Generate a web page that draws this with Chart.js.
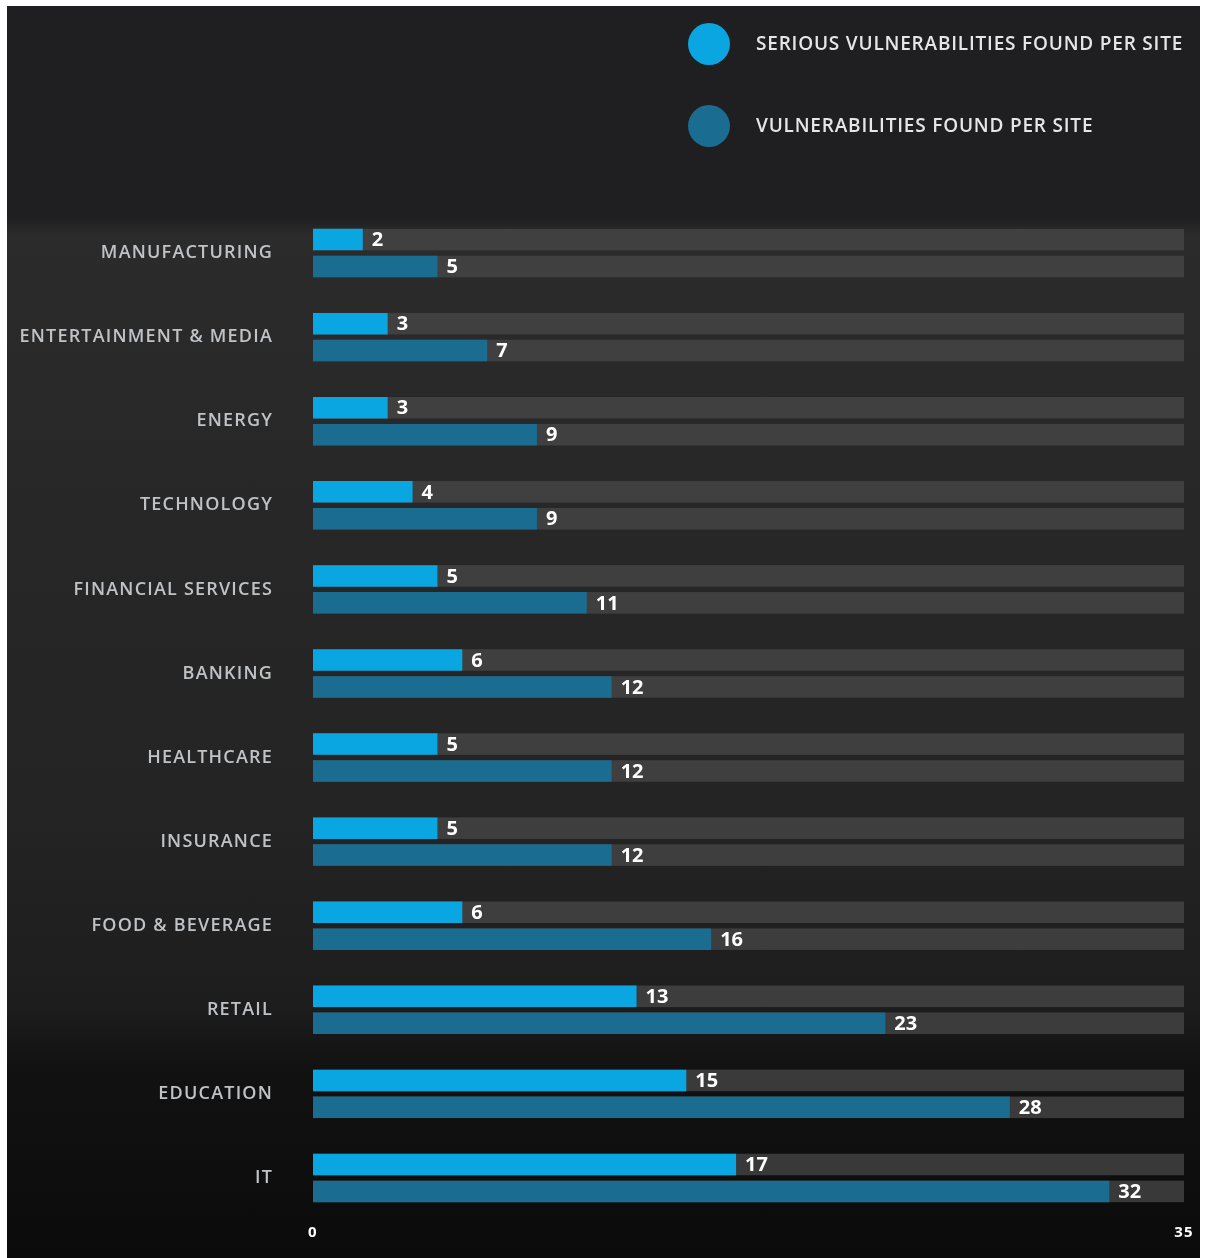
<!DOCTYPE html>
<html>
<head>
<meta charset="utf-8">
<title>Vulnerabilities per site by industry</title>
<script src="https://cdn.jsdelivr.net/npm/chart.js@4.4.1/dist/chart.umd.min.js"></script>
<style>
  html, body { margin: 0; padding: 0; background: #fff; }
  #wrap {
    position: absolute; left: 7px; top: 6px; width: 1193px; height: 1252px;
    background:
      linear-gradient(to bottom,
        #1f1f21 0px, #1f1f21 212px,
        #2b2b2b 228px, #272727 520px, #242424 800px,
        #1d1d1d 1000px, #121212 1060px, #0b0b0b 1252px);
  }
  canvas { display: block; }
</style>
</head>
<body>
<div id="wrap"><canvas id="chart" width="1193" height="1252"></canvas></div>
<script>
// data
const industries = [
  'MANUFACTURING', 'ENTERTAINMENT & MEDIA', 'ENERGY', 'TECHNOLOGY',
  'FINANCIAL SERVICES', 'BANKING', 'HEALTHCARE', 'INSURANCE',
  'FOOD & BEVERAGE', 'RETAIL', 'EDUCATION', 'IT'
];
const seriousPerSite = [2, 3, 3, 4, 5, 6, 5, 5, 6, 13, 15, 17];
const vulnsPerSite   = [5, 7, 9, 9, 11, 12, 12, 12, 16, 23, 28, 32];
const axisTicks = [0, 35];

const SERIOUS_COLOR = '#0aa6e2';
const VULN_COLOR = '#1b6c91';

// grey track behind every bar, running to the end of the axis
const trackPlugin = {
  id: 'tracks',
  beforeDatasetsDraw(chart) {
    const ctx = chart.ctx;
    const x = chart.scales.x;
    const end = x.getPixelForValue(axisTicks[axisTicks.length - 1]);
    ctx.save();
    ctx.fillStyle = 'rgba(72,72,72,0.75)';
    chart.data.datasets.forEach((ds, i) => {
      chart.getDatasetMeta(i).data.forEach(bar => {
        const h = bar.height;
        ctx.fillRect(bar.base, bar.y - h / 2, end - bar.base, h);
      });
    });
    ctx.restore();
  }
};

// white numbers after each bar
const valueLabels = {
  id: 'valueLabels',
  afterDatasetsDraw(chart) {
    const ctx = chart.ctx;
    ctx.save();
    ctx.font = "bold 20px 'Open Sans', sans-serif";
    ctx.letterSpacing = '0px';
    ctx.fillStyle = '#ffffff';
    ctx.textAlign = 'left';
    ctx.textBaseline = 'middle';
    chart.data.datasets.forEach((ds, i) => {
      chart.getDatasetMeta(i).data.forEach((bar, j) => {
        ctx.fillText(String(ds.data[j]), bar.x + 9, bar.y + 1);
      });
    });
    ctx.restore();
  }
};

// legend at the top right, big dots
const dotLegend = {
  id: 'dotLegend',
  afterDraw(chart) {
    const ctx = chart.ctx;
    ctx.save();
    ctx.font = "600 19px 'Open Sans', sans-serif";
    ctx.letterSpacing = '0.8px';
    ctx.textBaseline = 'middle';
    ctx.textAlign = 'left';
    chart.data.datasets.forEach((ds, i) => {
      const cy = 38 + i * 82;
      ctx.fillStyle = ds.backgroundColor;
      ctx.beginPath();
      ctx.arc(702, cy, 21, 0, Math.PI * 2);
      ctx.fill();
      ctx.fillStyle = '#e6e6e6';
      ctx.fillText(ds.label, 749, cy + 1);
    });
    ctx.restore();
  }
};

const spacing = {
  id: 'spacing',
  beforeDraw(chart) { chart.ctx.letterSpacing = '1.2px'; }
};

new Chart(document.getElementById('chart'), {
  type: 'bar',
  data: {
    labels: industries,
    datasets: [
      {
        label: 'SERIOUS VULNERABILITIES FOUND PER SITE',
        data: seriousPerSite,
        backgroundColor: SERIOUS_COLOR
      },
      {
        label: 'VULNERABILITIES FOUND PER SITE',
        data: vulnsPerSite,
        backgroundColor: VULN_COLOR
      }
    ]
  },
  options: {
    indexAxis: 'y',
    responsive: false,
    animation: false,
    maintainAspectRatio: false,
    categoryPercentage: 0.64,
    barPercentage: 0.8,
    layout: { padding: { top: 205, right: 16, left: 0, bottom: 0 } },
    plugins: {
      legend: { display: false },
      tooltip: { enabled: false }
    },
    scales: {
      x: {
        min: 0,
        max: 35,
        grid: { display: false, drawTicks: false },
        border: { display: false },
        afterBuildTicks(axis) { axis.ticks = axisTicks.map(v => ({ value: v })); },
        afterFit(axis) { axis.height = 38; },
        ticks: {
          padding: 4,
          color: '#ffffff',
          font: { family: "'Open Sans', sans-serif", size: 15, weight: 'bold' },
          maxRotation: 0
        }
      },
      y: {
        grid: { display: false, drawTicks: false },
        border: { display: false },
        afterFit(axis) {
          axis.width = 306;
          // the big label gap should not eat vertical room
          axis.paddingTop = 0;
          axis.paddingBottom = 0;
        },
        ticks: {
          padding: 40,
          color: '#c0c3c6',
          font: { family: "'Open Sans', sans-serif", size: 18, weight: '600' }
        }
      }
    }
  },
  plugins: [spacing, trackPlugin, valueLabels, dotLegend]
});
</script>
</body>
</html>
